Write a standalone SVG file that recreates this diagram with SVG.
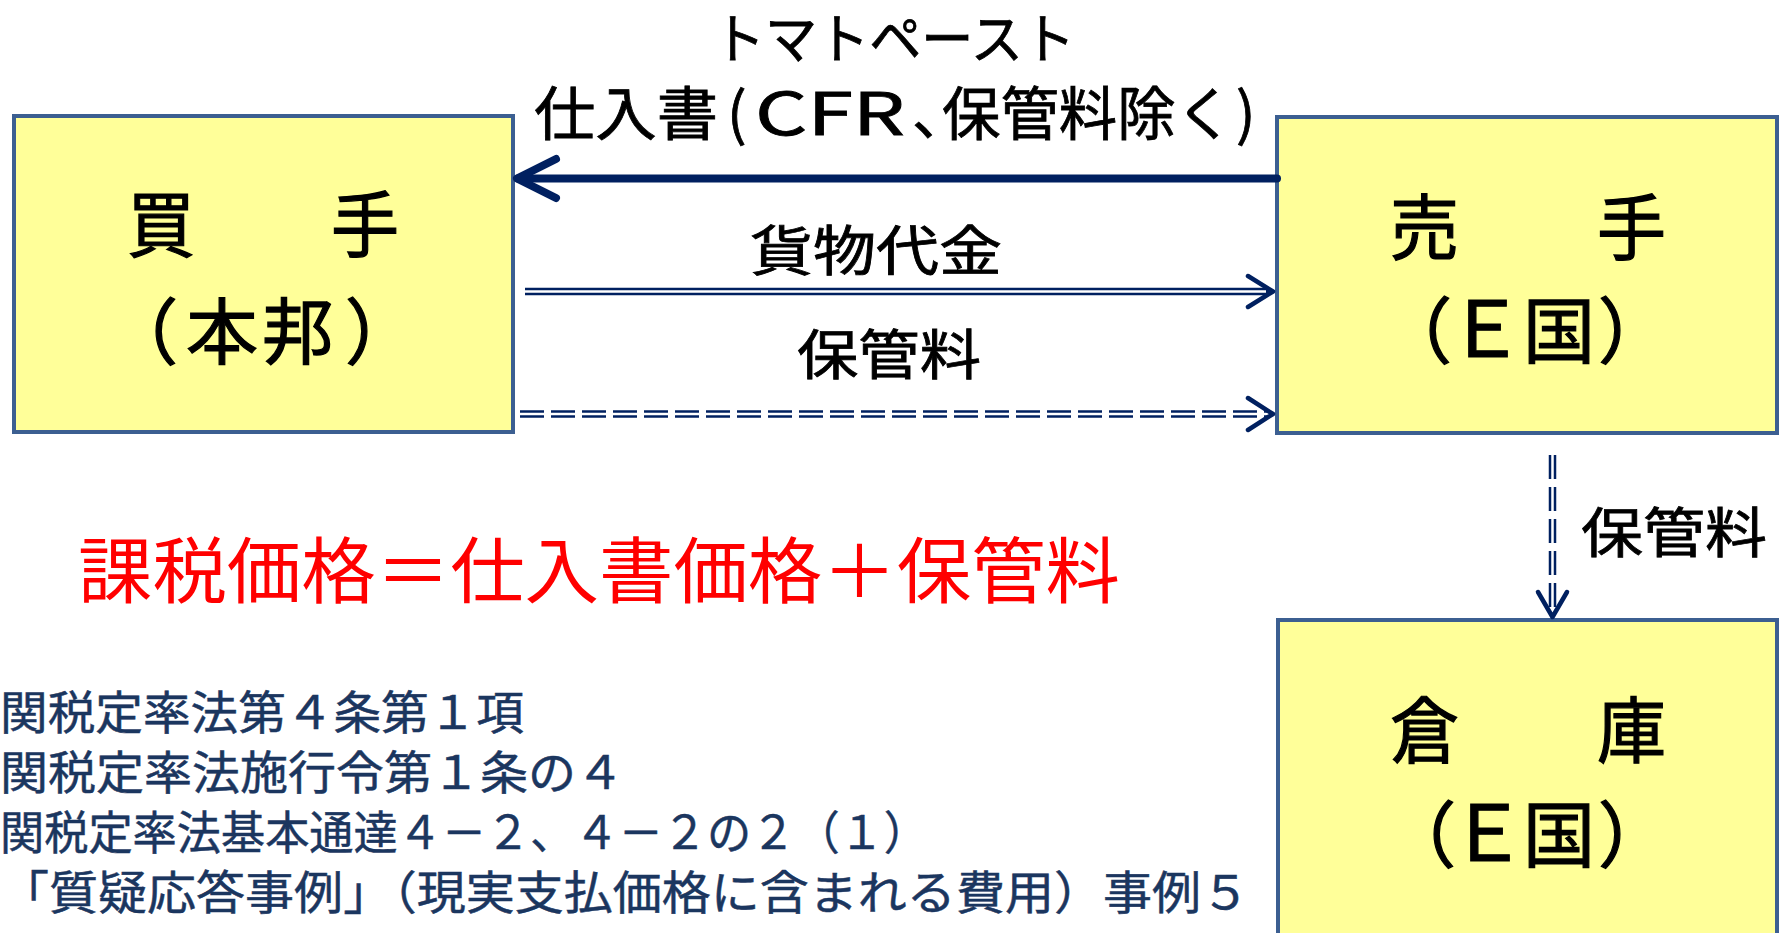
<svg xmlns="http://www.w3.org/2000/svg" width="1783" height="933" viewBox="0 0 1783 933">
<style>
text{font-family:"Noto Sans CJK JP","Noto Sans CJK SC",sans-serif;fill:#000}
.box{fill:#FFFF99;stroke:#3C5F91;stroke-width:4}
.big{font-size:72px;text-anchor:middle;stroke:#000;stroke-width:1.2}
.lbl{font-size:54px;text-anchor:middle;stroke:#000;stroke-width:0.8}
.top2{font-size:58px;stroke:#000;stroke-width:0.8}
.ref{font-size:46px;fill:#1B365F;stroke:#1B365F;stroke-width:0.5}
.red{font-size:72px;fill:#FF0000}
.nav{stroke:#002060;fill:none;stroke-linecap:round;stroke-linejoin:round}
.dbl{stroke:#002060;stroke-width:7.5;fill:none}
.gap{stroke:#FFFFFF;stroke-width:2.5;fill:none}
</style>
<rect width="1783" height="933" fill="#FFFFFF"/>
<g id="buyer">
<rect class="box" x="14" y="116" width="499" height="316"/>
<text class="big" x="263" y="251" textLength="272" lengthAdjust="spacingAndGlyphs">買　　手</text>
<text class="big" x="142 222 298 381" y="358">（本邦）</text>
</g>
<g id="seller">
<rect class="box" x="1277" y="117" width="500" height="316"/>
<text class="big" x="1528" y="254" textLength="276" lengthAdjust="spacingAndGlyphs">売　　手</text>
<text class="big" y="357"><tspan x="1416">（</tspan><tspan x="1486" font-size="78">Ｅ</tspan><tspan x="1559">国</tspan><tspan x="1634">）</tspan></text>
</g>
<g id="warehouse">
<rect class="box" x="1278" y="620" width="499" height="330"/>
<text class="big" x="1528" y="757" textLength="276" lengthAdjust="spacingAndGlyphs">倉　　庫</text>
<text class="big" y="861"><tspan x="1420">（</tspan><tspan x="1488" font-size="78">Ｅ</tspan><tspan x="1559">国</tspan><tspan x="1634">）</tspan></text>
</g>
<g id="connectors">
<line class="nav" x1="1277" y1="178.5" x2="518" y2="178.5" stroke-width="8" stroke-linecap="butt"/>
<polyline class="nav" points="556,159 517,178.5 556,198" stroke-width="8"/>
<line class="dbl" x1="525" y1="291.5" x2="1270" y2="291.5"/>
<line class="gap" x1="523" y1="291.5" x2="1266" y2="291.5"/>
<polyline class="nav" points="1248,276 1273,291.5 1248,307" stroke-width="4.5"/>
<line class="dbl" x1="520" y1="414" x2="1270" y2="414" stroke-dasharray="24 7"/>
<line class="gap" x1="518" y1="414" x2="1270" y2="414"/>
<polyline class="nav" points="1248,398 1273,414 1248,430" stroke-width="4.5"/>
<line class="dbl" x1="1552.5" y1="455" x2="1552.5" y2="612" stroke-dasharray="24 8"/>
<line class="gap" x1="1552.5" y1="453" x2="1552.5" y2="614"/>
<polyline class="nav" points="1538,592 1552.5,617 1567,592" stroke-width="4.5"/>
</g>
<g id="labels">
<text class="lbl" x="894" y="59" textLength="362" lengthAdjust="spacingAndGlyphs">トマトペースト</text>
<text class="top2" y="135"><tspan x="534" textLength="184" lengthAdjust="spacingAndGlyphs">仕入書</tspan><tspan x="727">(</tspan><tspan x="755" textLength="150" lengthAdjust="spacingAndGlyphs">CFR</tspan><tspan x="912">、</tspan><tspan x="942" textLength="292" lengthAdjust="spacingAndGlyphs">保管料除く</tspan><tspan x="1236">)</tspan></text>
<text class="lbl" x="876" y="271" textLength="252" lengthAdjust="spacingAndGlyphs" font-size="58">貨物代金</text>
<text class="lbl" x="889" y="375" textLength="184" lengthAdjust="spacingAndGlyphs" font-size="60">保管料</text>
<text class="lbl" x="1674" y="553" textLength="186" lengthAdjust="spacingAndGlyphs" font-size="60">保管料</text>
</g>
<g id="formula">
<text class="red" x="78" y="597" textLength="1042" lengthAdjust="spacingAndGlyphs">課税価格＝仕入書価格＋保管料</text>
</g>
<g id="references">
<text class="ref" x="0" y="729" textLength="524" lengthAdjust="spacingAndGlyphs">関税定率法第４条第１項</text>
<text class="ref" x="0" y="789" textLength="624" lengthAdjust="spacingAndGlyphs">関税定率法施行令第１条の４</text>
<text class="ref" x="0" y="849" textLength="928" lengthAdjust="spacingAndGlyphs">関税定率法基本通達４－２、４－２の２（１）</text>
<text class="ref" x="0" y="909" textLength="1250" lengthAdjust="spacingAndGlyphs">「質疑応答事例」（現実支払価格に含まれる費用）事例５</text>
</g>
</svg>
